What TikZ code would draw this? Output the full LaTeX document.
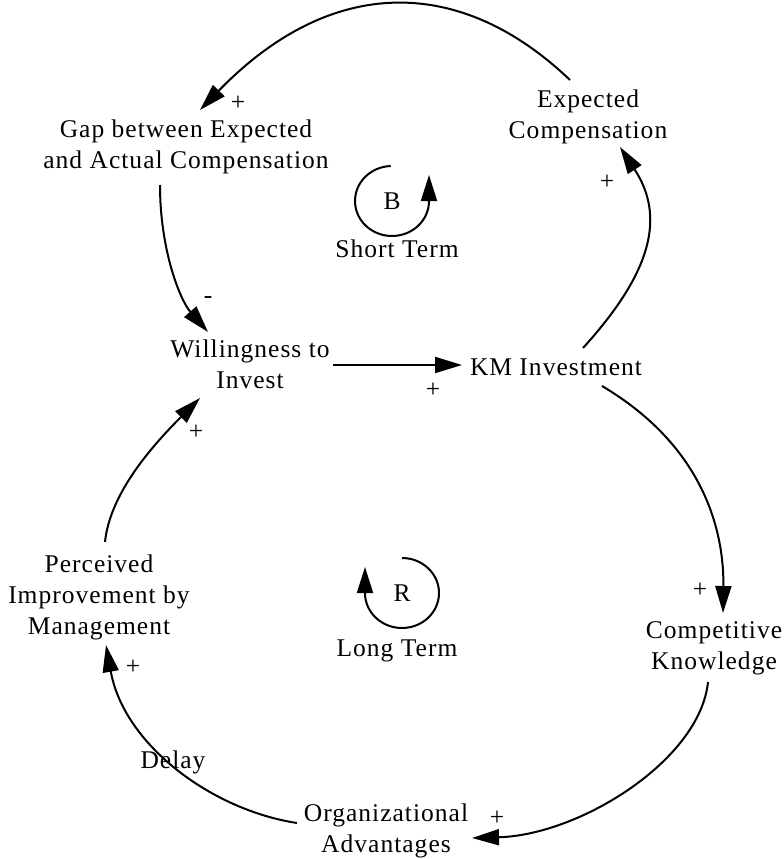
\documentclass[tikz,border=0pt]{standalone}
\usepackage{fontspec}
\setmainfont{Liberation Serif}
\newfontfamily\vfont{Liberation Serif}[LetterSpace=4]
\usetikzlibrary{arrows.meta,calc}
\begin{document}
\begin{tikzpicture}[x=1pt,y=1pt,
  var/.style={align=center, inner sep=0pt, font=\vfont\fontsize{25.5}{31}\selectfont},
  pol/.style={inner sep=0pt, font=\fontsize{25.5}{31}\selectfont},
  conn/.style={line width=2pt, -{Triangle[length=27pt,width=16pt]}},
  loopline/.style={line width=2pt, -{Triangle[length=26pt,width=16pt]}}]
\useasboundingbox (0,0) rectangle (784,-859);

% variables
\node[var] (ec)   at (588,-116.7) {Expected\\Compensation};
\node[var] (gap)  at (186,-146.7) {Gap between Expected\\and Actual Compensation};
\node[var] (will) at (250,-364)   {Willingness to\\Invest};
\node[var] (km)   at (556,-367)   {KM Investment};
\node[var] (perc) at (99,-597)    {Perceived\\Improvement by\\Management};
\node[var] (comp) at (714,-648)   {Competitive\\Knowledge};
\node[var] (org)  at (386,-831)   {Organizational\\Advantages};
\node[var] (delay) at (173,-762)  {Delay};

% loop markers
\node[var] (bl) at (392,-201) {B};
\node[var] (st) at (397,-248.5) {Short Term};
\node[var] (rl) at (402,-593) {R};
\node[var] (lt) at (397,-651) {Long Term};

% causal links
\draw[conn] ($(ec.center)+(-18,36.7)$) .. controls (460,25) and (331,25) .. ($(gap.center)+(14,36.7)$);
\draw[conn] ($(gap.center)+(-26,-38.3)$) .. controls (160,-250) and (180,-300) .. ($(will.center)+(-42,32)$);
\draw[conn] ($(will.center)+(83,-1)$) -- ($(km.center)+(-94,2)$);
\draw[conn] ($(km.center)+(27,19)$) .. controls (653,-271) and (665,-216) .. ($(ec.center)+(32,-30.3)$);
\draw[conn] ($(km.center)+(46,-19)$) .. controls (710,-450) and (724,-540) .. ($(comp.center)+(9,35)$);
\draw[conn] ($(comp.center)+(-6,-34)$) .. controls (700,-760) and (580,-835) .. ($(org.center)+(86,-7)$);
\draw[conn] ($(org.center)+(-89,8)$) .. controls (212,-810) and (124,-745) .. ($(perc.center)+(7,-48)$);
\draw[conn] ($(perc.center)+(6,55)$) .. controls (110,-492) and (155,-443) .. ($(will.center)+(-50,-34)$);

% polarities
\node[pol] (p1) at (238,-103) {+};
\node[pol] (p2) at (208,-300) {-};
\node[pol] (p3) at (433,-390) {+};
\node[pol] (p4) at (607,-182) {+};
\node[pol] (p5) at (700,-590) {+};
\node[pol] (p6) at (497,-818) {+};
\node[pol] (p7) at (133,-667) {+};
\node[pol] (p8) at (196,-432) {+};

% loop arrows
\draw[loopline] ([shift={(92:37 and 35)}]bl.center) arc[start angle=92, end angle=360, x radius=37, y radius=35] -- ++(0,26);
\draw[loopline] ([shift={(90:37 and 35)}]rl.center) arc[start angle=90, end angle=-180, x radius=37, y radius=35] -- ++(0,26);
\end{tikzpicture}
\end{document}
